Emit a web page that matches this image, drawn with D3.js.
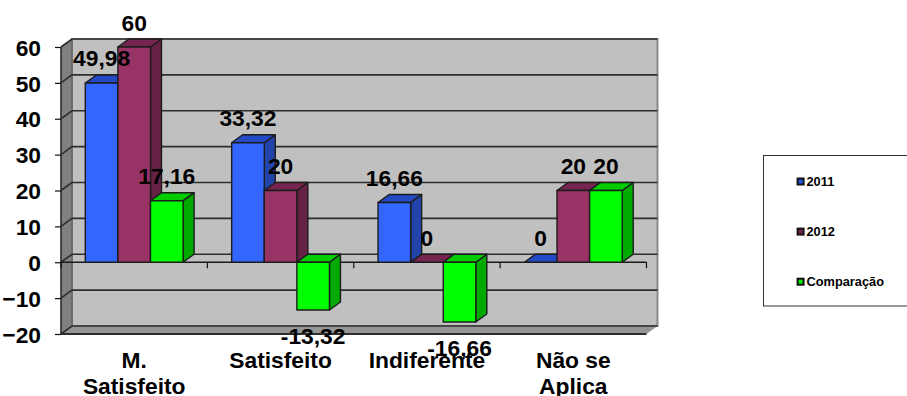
<!DOCTYPE html>
<html lang="pt">
<head>
<meta charset="utf-8">
<script src="https://cdn.jsdelivr.net/npm/d3@7/dist/d3.min.js"></script>
<style>
  html, body { margin: 0; padding: 0; background: #fff; overflow: hidden; }
  svg { display: block; font-family: "Liberation Sans", Arial, sans-serif; font-weight: bold; fill: #000; }
</style>
</head>
<body>
<svg id="chart" width="907" height="396"></svg>
<script>
// Chart data
const categories = [["M.", "Satisfeito"], ["Satisfeito"], ["Indiferente"], ["Não se", "Aplica"]];
const seriesNames = ["2011", "2012", "Comparação"];
const values2011 = [49.98, 33.32, 16.66, 0];
const values2012 = [60, 20, 0, 20];
const valuesComparacao = [17.16, -13.32, -16.66, 20];
const yTicks = [-20, -10, 0, 10, 20, 30, 40, 50, 60];

const seriesValues = [values2011, values2012, valuesComparacao];
const palette = [
  { front: "#3366ff", side: "#2244aa", top: "#2349c4", key: "#2a55ee" },
  { front: "#993366", side: "#662244", top: "#752550", key: "#7a2350" },
  { front: "#00ff00", side: "#00aa00", top: "#00cc00", key: "#00ee00" }
];

// Plot frame and the oblique offset of the 3D projection
const left = 61, right = 646.5, depthX = 11, depthY = 8;
const stroke = "#1c1c1c";
const labelSize = 22.8;

const svg = d3.select("#chart");
const y = d3.scaleLinear().domain([-20, 60]).range([334, 47]);
const x = d3.scaleBand().domain(d3.range(categories.length)).range([left, right]);
const barWidth = 32.6;
const groupOffset = (x.bandwidth() - barWidth * 3) / 2;
const poly = pts => pts.map(p => p.join(",")).join(" ");

// Walls and floor
const walls = svg.append("g");
walls.append("polygon")
  .attr("points", poly([[left + depthX, y(60) - depthY], [right + depthX, y(60) - depthY], [right + depthX, y(-20) - depthY], [left + depthX, y(-20) - depthY]]))
  .attr("fill", "#c0c0c0").attr("stroke", "#8a8a8a").attr("stroke-width", 2);
walls.append("polygon")
  .attr("points", poly([[left, y(60)], [left + depthX, y(60) - depthY], [left + depthX, y(-20) - depthY], [left, y(-20)]]))
  .attr("fill", "#808080").attr("stroke", "#555").attr("stroke-width", 1);
walls.append("polygon")
  .attr("points", poly([[left, y(-20)], [left + depthX, y(-20) - depthY], [right + depthX, y(-20) - depthY], [right, y(-20)]]))
  .attr("fill", "#969696");

// Gridlines running along the back wall and across the side wall
const grid = svg.append("g").attr("fill", "none").attr("stroke", "#2e2e2e").attr("stroke-width", 1.6);
yTicks.forEach(t => {
  grid.append("polyline")
    .attr("points", poly([[left, y(t)], [left + depthX, y(t) - depthY], [right + depthX, y(t) - depthY]]));
});
grid.append("line")
  .attr("x1", left).attr("x2", right).attr("y1", y(-20)).attr("y2", y(-20)).attr("stroke-width", 2);
grid.append("line")
  .attr("x1", left).attr("x2", left).attr("y1", y(60)).attr("y2", y(-20)).attr("stroke-width", 1.4);

// Value axis
const yAxis = d3.axisLeft(y).tickValues(yTicks).tickSize(6).tickFormat(d3.format("d"));
const yG = svg.append("g").attr("transform", `translate(${left},0)`).call(yAxis);
yG.select(".domain").remove();
yG.selectAll("line").attr("stroke", "#111").attr("stroke-width", 1.2);
yG.selectAll("text").attr("font-size", labelSize).attr("font-family", "Liberation Sans").attr("font-weight", "bold")
  .attr("fill", "#000").attr("dy", "0.36em").attr("x", -20);

// Baseline at zero with category boundary ticks
const baseG = svg.append("g");
baseG.append("line").attr("x1", left).attr("x2", right).attr("y1", y(0)).attr("y2", y(0))
  .attr("stroke", "#1a1a1a").attr("stroke-width", 1.3);
d3.range(categories.length + 1).forEach(i => {
  const px = i < categories.length ? x(i) : right;
  baseG.append("line").attr("x1", px).attr("x2", px).attr("y1", y(0)).attr("y2", y(0) + 6)
    .attr("stroke", "#111").attr("stroke-width", 1.2);
});

// Bars: side, top and front faces for each series in each category
const bars = svg.append("g").attr("stroke", stroke).attr("stroke-width", 1.4).attr("stroke-linejoin", "round");
const barX = (c, s) => x(c) + groupOffset + s * barWidth;
categories.forEach((_, c) => {
  seriesNames.forEach((_, s) => {
    const v = seriesValues[s][c];
    const x0 = barX(c, s), x1 = x0 + barWidth;
    const yTop = y(Math.max(v, 0)), yBot = y(Math.min(v, 0));
    const col = palette[s];
    if (yBot > yTop) {
      bars.append("polygon")
        .attr("points", poly([[x1, yTop], [x1 + depthX, yTop - depthY], [x1 + depthX, yBot - depthY], [x1, yBot]]))
        .attr("fill", col.side);
    }
    bars.append("polygon")
      .attr("points", poly([[x0, yTop], [x0 + depthX, yTop - depthY], [x1 + depthX, yTop - depthY], [x1, yTop]]))
      .attr("fill", col.top);
    if (yBot > yTop) {
      bars.append("rect")
        .attr("x", x0).attr("y", yTop).attr("width", barWidth).attr("height", yBot - yTop)
        .attr("fill", col.front);
    }
  });
});

// Value labels
const fmt = v => String(v).replace(".", ",");
const labels = svg.append("g").attr("font-size", labelSize).attr("text-anchor", "middle");
categories.forEach((_, c) => {
  seriesNames.forEach((_, s) => {
    const v = seriesValues[s][c];
    labels.append("text")
      .attr("x", barX(c, s) + barWidth / 2)
      .attr("y", v < 0 ? y(v) + 34 : y(v) - 16.5)
      .text(fmt(v));
  });
});

// Category labels
const catG = svg.append("g").attr("font-size", labelSize).attr("text-anchor", "middle");
categories.forEach((lines, c) => {
  lines.forEach((line, i) => {
    catG.append("text")
      .attr("x", x(c) + x.bandwidth() / 2)
      .attr("y", 368 + i * 26)
      .text(line);
  });
});

// Legend
const legend = svg.append("g");
legend.append("rect").attr("x", 763.5).attr("y", 155.5).attr("width", 160).attr("height", 150.5)
  .attr("fill", "#fff").attr("stroke", "#333").attr("stroke-width", 1);
const legendY = d3.scalePoint().domain(seriesNames).range([181.5, 281.7]);
seriesNames.forEach((name, s) => {
  const cy = legendY(name);
  legend.append("rect").attr("x", 797.6).attr("y", cy - 3).attr("width", 6).attr("height", 6)
    .attr("fill", palette[s].key).attr("stroke", "#111").attr("stroke-width", 2);
  legend.append("text").attr("x", 806.5).attr("y", cy + 4.3).attr("font-size", 12.8).text(name);
});
</script>
</body>
</html>
